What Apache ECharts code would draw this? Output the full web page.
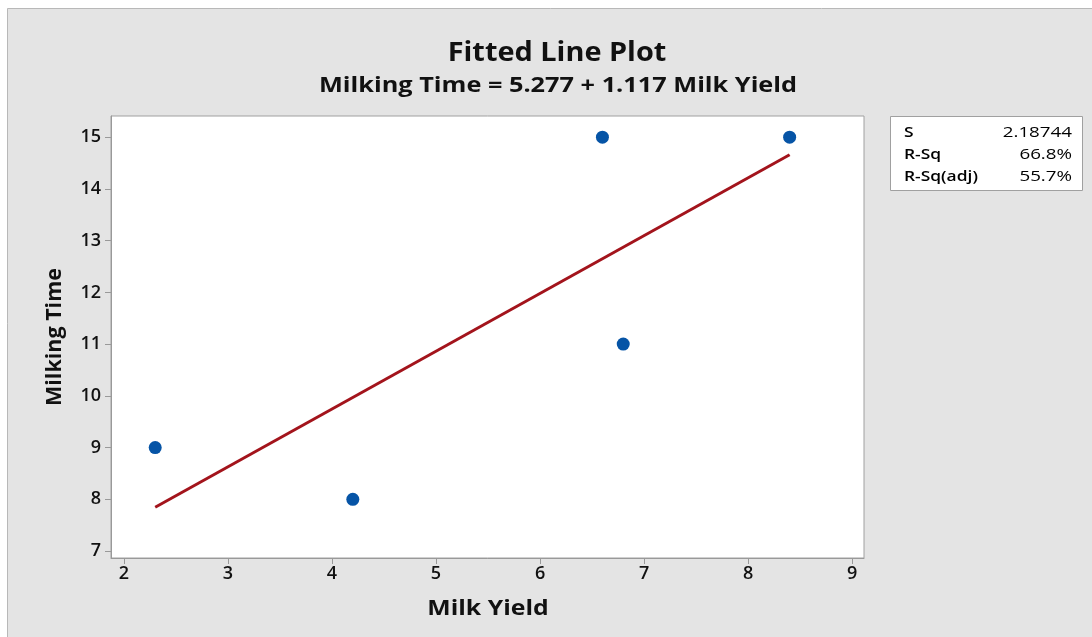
<!DOCTYPE html>
<html><head><meta charset="utf-8">
<script src="https://cdn.jsdelivr.net/npm/echarts@6/dist/echarts.min.js"></script>
<style>html,body{margin:0;padding:0;background:#fff}#c{width:1092px;height:637px}</style>
</head><body><div id="c"></div>
<script>
const milkYield = [2.3, 4.2, 6.6, 6.8, 8.4];
const milkingTime = [9, 8, 15, 11, 15];
const fitX = [2.3, 8.4];
const fitY = [7.846, 14.660];
const xTicks = [2, 3, 4, 5, 6, 7, 8, 9];
const yTicks = [7, 8, 9, 10, 11, 12, 13, 14, 15];
const statNames = ['S', 'R-Sq', 'R-Sq(adj)'];
const statValues = ['2.18744', '66.8%', '55.7%'];
const titleText = 'Fitted Line Plot';
const subtitleText = 'Milking Time = 5.277 + 1.117 Milk Yield';

const FONT = '"Open Sans", "Noto Sans", sans-serif';
const chart = echarts.init(document.getElementById('c'), null, {renderer: 'canvas'});

const statText = [];
statNames.forEach((n, i) => {
  statText.push({type: 'text', x: 904, y: 132.5 + i * 22, scaleX: 1.16,
    style: {text: n, font: '600 15px ' + FONT, fill: '#000', textAlign: 'left', textVerticalAlign: 'middle'}, z: 10});
  statText.push({type: 'text', x: 1072, y: 132.5 + i * 22, scaleX: 1.25,
    style: {text: statValues[i], font: '500 15px ' + FONT, fill: '#000', textAlign: 'right', textVerticalAlign: 'middle'}, z: 10});
});

chart.setOption({
  backgroundColor: '#fff',
  animation: false,
  graphic: [
    {type: 'rect', shape: {x: 7.5, y: 8.5, width: 1090, height: 640}, style: {fill: '#e4e4e4', stroke: '#b8b8b8', lineWidth: 1}, z: -10, silent: true},
    {type: 'rect', shape: {x: 890.5, y: 116.5, width: 192, height: 74}, style: {fill: '#fff', stroke: '#a0a0a0', lineWidth: 1}, z: 5},
    {type: 'text', x: 557, y: 53, scaleX: 1.09,
     style: {text: titleText, font: '700 26.5px ' + FONT, fill: '#111', textAlign: 'center', textVerticalAlign: 'middle'}, z: 10},
    {type: 'text', x: 558, y: 86, scaleX: 1.15,
     style: {text: subtitleText, font: '700 22px ' + FONT, fill: '#111', textAlign: 'center', textVerticalAlign: 'middle'}, z: 10},
    {type: 'text', x: 488, y: 609, scaleX: 1.21,
     style: {text: 'Milk Yield', font: '700 20.5px ' + FONT, fill: '#111', textAlign: 'center', textVerticalAlign: 'middle'}, z: 10},
    ...statText
  ],
  grid: {left: 111, top: 116, width: 753, height: 442, show: true, backgroundColor: '#fff', borderColor: '#a0a0a0', borderWidth: 1},
  xAxis: {
    type: 'value', min: 1.875, max: 9.115,
    axisLine: {show: true, onZero: false, lineStyle: {color: '#999', width: 1}},
    axisTick: {show: true, length: 6, lineStyle: {color: '#999'}, customValues: xTicks},
    axisLabel: {fontFamily: FONT, fontSize: 18, fontWeight: 600, color: '#111', margin: 7, customValues: xTicks, showMinLabel: true, showMaxLabel: true},
    splitLine: {show: false}
  },
  yAxis: {
    type: 'value', min: 6.865, max: 15.41,
    name: 'Milking Time', nameLocation: 'middle', nameGap: 45,
    nameTextStyle: {fontFamily: FONT, fontSize: 21.5, fontWeight: 700, color: '#111'},
    axisLine: {show: true, onZero: false, lineStyle: {color: '#999', width: 1}},
    axisTick: {show: true, length: 6, lineStyle: {color: '#999'}, customValues: yTicks},
    axisLabel: {fontFamily: FONT, fontSize: 18, fontWeight: 600, color: '#111', margin: 10, customValues: yTicks},
    splitLine: {show: false}
  },
  series: [
    {type: 'line', data: fitX.map((x, i) => [x, fitY[i]]), showSymbol: false, symbol: 'none',
     lineStyle: {color: '#a3141c', width: 3}, z: 2, silent: true},
    {type: 'scatter', data: milkYield.map((x, i) => [x, milkingTime[i]]), symbol: 'circle', symbolSize: 13,
     itemStyle: {color: '#0654a6', opacity: 1}, z: 3}
  ]
});
</script></body></html>
